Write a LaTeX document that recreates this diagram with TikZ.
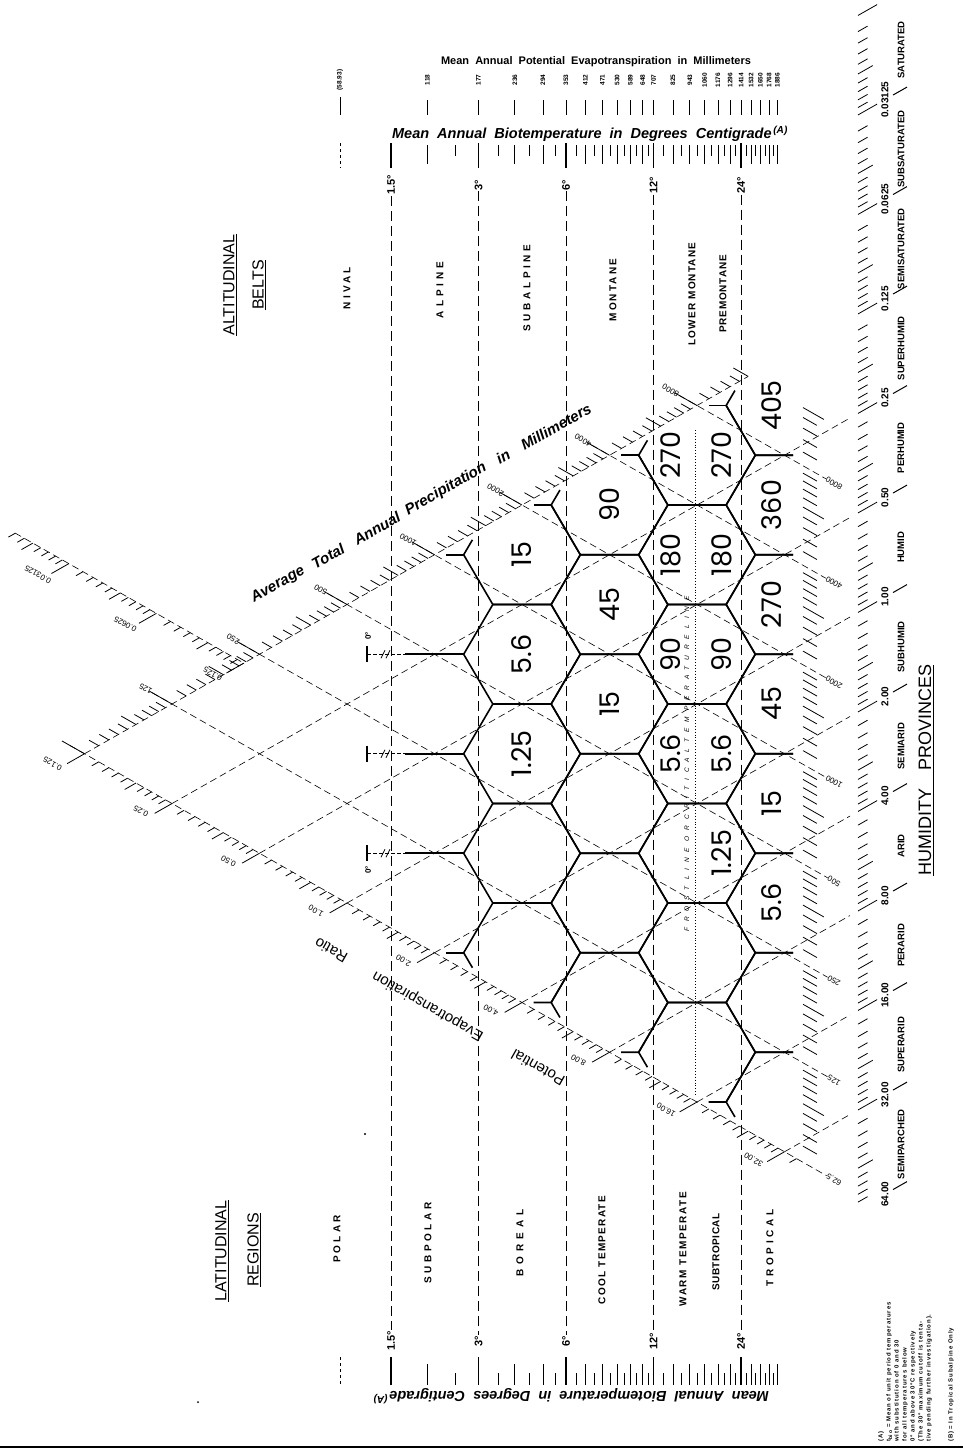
\documentclass[tikz,border=0pt]{standalone}
\usepackage{fontspec}
\setmainfont{Liberation Sans}
\newfontfamily\zonefont{Poppins}
\usetikzlibrary{arrows.meta}

\begin{document}
\begin{tikzpicture}[x=1pt,y=-1pt,
  hexedge/.style={line width=1.6pt,line join=miter},
  guide/.style={line width=0.6pt,dash pattern=on 7pt off 4pt},
  tline/.style={line width=1pt,dash pattern=on 10pt off 5pt},
  tick/.style={line width=0.8pt},
  zone/.style={rotate=90,font=\zonefont\fontsize{27}{27}\selectfont,inner sep=0pt},
  band/.style={rotate=90,font=\bfseries\fontsize{10}{10}\selectfont,inner sep=0pt},
  prov/.style={rotate=90,font=\bfseries\fontsize{9.5}{9.5}\selectfont,inner sep=0pt},
  heading/.style={rotate=90,font=\fontsize{16}{16}\selectfont,inner sep=0pt},
  deg/.style={rotate=90,font=\bfseries\fontsize{11}{11}\selectfont,inner sep=1pt},
  slab/.style={rotate=150.4,font=\fontsize{8}{8}\selectfont,inner sep=0.5pt},
  vlab/.style={rotate=90,font=\bfseries\fontsize{10}{10}\selectfont,inner sep=0pt},
  petv/.style={rotate=90,font=\bfseries\fontsize{6.5}{6.5}\selectfont,inner sep=0pt},
  ptword/.style={rotate=29.6,font=\bfseries\itshape\fontsize{15}{15}\selectfont,inner sep=0pt},
  erword/.style={rotate=150.4,font=\fontsize{15}{15}\selectfont,inner sep=0pt},
  note/.style={rotate=90,anchor=north west,align=left,inner sep=0pt,font=\bfseries\fontsize{6}{8}\selectfont\addfontfeatures{LetterSpace=15}}]

\useasboundingbox (0,0) rectangle (963,1452);

% biotemperature / evapotranspiration scales
\node[font=\bfseries\fontsize{11}{11}\selectfont] (pettitle) at (596,62) {Mean\ \ Annual\ \ Potential\ \ Evapotranspiration\ \ in\ \ Millimeters};
\node[petv] (pet1) at (340,80) {(58.93)};
\draw[tick] (340,97) -- (340,115);
\foreach \tv/\vv in {2/118,3/177,4/236,5/294,6/353,7/412,8/471,9/530,10/589,11/648,12/707,14/825,16/943,18/1060,20/1176,22/1296,24/1414,26/1532,28/1650,30/1768,32/1886}{
  \pgfmathsetmacro\tx{391+126.24*ln(\tv/1.5)}
  \node[petv] (pet\tv) at (\tx,80) {\vv};
  \draw[tick] (\tx,100) -- (\tx,115);
}
\node[font=\bfseries\itshape\fontsize{14.5}{14.5}\selectfont] (biotop) at (590,134) {Mean\ \ Annual\ \ Biotemperature\ \ in\ \ Degrees\ \ Centigrade\textsuperscript{\,(A)}};
\node[rotate=180,font=\bfseries\itshape\fontsize{14.5}{14.5}\selectfont] (biobot) at (571,1396) {Mean\ \ Annual\ \ Biotemperature\ \ in\ \ Degrees\ \ Centigrade\textsuperscript{\,(A)}};
\foreach \tv in {1.5,3,6,12,24}{
  \pgfmathsetmacro\tx{391+126.24*ln(\tv/1.5)}
  \draw[tick,line width=1.1pt] (\tx,143) -- (\tx,168);
  \draw[tick,line width=1.1pt] (\tx,1357) -- (\tx,1385);
}
\foreach \tv in {2,4,5,7,8,9,10,11,14,16,18,20,22,26,28,30,32}{
  \pgfmathsetmacro\tx{391+126.24*ln(\tv/1.5)}
  \draw[tick] (\tx,145) -- (\tx,164);
  \draw[tick] (\tx,1364) -- (\tx,1385);
}
\foreach \tv in {2.5,3.5,4.5,5.5,6.5,7.5,8.5,9.5,10.5,11.5,13,15,17,19,21,23,25,27,29,31}{
  \pgfmathsetmacro\tx{391+126.24*ln(\tv/1.5)}
  \draw[tick] (\tx,145) -- (\tx,156);
  \draw[tick] (\tx,1373) -- (\tx,1385);
}
\draw[tick,dash pattern=on 3pt off 3pt] (340,143) -- (340,168);
\draw[tick,dash pattern=on 3pt off 3pt] (340,1357) -- (340,1385);

% guide lines of biotemperature
\foreach \tv/\tn in {1.5/a,3/b,6/c,12/d,24/e}{
  \pgfmathsetmacro\tx{391+126.24*ln(\tv/1.5)}
  \node[deg] (tt\tn) at (\tx,185) {\tv°};
  \node[deg] (tb\tn) at (\tx,1341) {\tv°};
  \draw[tline] (tt\tn.west) -- (tb\tn.east);
}

% belts and regions
\node[heading] (altA) at (230,285) {\underline{ALTITUDINAL}};
\node[heading] (altB) at (259,285) {\underline{BELTS}};
\node[band] (bnival) at (347,288) {\addfontfeatures{LetterSpace=32}NIVAL};
\node[band] (balpine) at (440,290) {\addfontfeatures{LetterSpace=39}ALPINE};
\node[band] (bsubalp) at (527,288) {\addfontfeatures{LetterSpace=36}SUBALPINE};
\node[band] (bmont) at (613,290) {\addfontfeatures{LetterSpace=22}MONTANE};
\node[band] (blower) at (692,294) {\addfontfeatures{LetterSpace=12}LOWER MONTANE};
\node[band] (bpre) at (723,294) {\addfontfeatures{LetterSpace=8}PREMONTANE};
\node[heading] (latA) at (222,1251) {\underline{LATITUDINAL}};
\node[heading] (latB) at (254,1250) {\underline{REGIONS}};
\node[band] (rpolar) at (337,1239) {\addfontfeatures{LetterSpace=32}POLAR};
\node[band] (rsubpol) at (428,1243) {\addfontfeatures{LetterSpace=36}SUBPOLAR};
\node[band] (rboreal) at (520,1243) {\addfontfeatures{LetterSpace=50}BOREAL};
\node[band] (rcool) at (602,1250) {\addfontfeatures{LetterSpace=13}COOL TEMPERATE};
\node[band] (rwarm) at (683,1249) {\addfontfeatures{LetterSpace=16}WARM TEMPERATE};
\node[band] (rsubtr) at (716,1252) {\addfontfeatures{LetterSpace=5}SUBTROPICAL};
\node[band] (rtrop) at (770,1248) {\addfontfeatures{LetterSpace=37}TROPICAL};

% precipitation guide lines
\foreach \wx/\wt/\wn in {278/Average/a,328/Total/b,377/Annual/c,446/Precipitation/d,503/in/e,556/Millimeters/f}{
  \pgfmathsetmacro\wy{446-(\wx-522)*0.5686}
  \node[ptword] (pw\wn) at (\wx,\wy) {\wt};
}
\foreach \pv/\pn in {125/a,250/b,500/c,1000/d,2000/e,4000/f,8000/g}{
  \pgfmathsetmacro\yp{604.5-143.55*ln(\pv/1000)}
  \pgfmathsetmacro\lx{522+(475-\yp)/1.1372}
  \pgfmathsetmacro\ly{(475+\yp)/2}
  \pgfmathsetmacro\ry{\yp+312*0.5686}
  \node[slab] (pt\pn) at (\lx,\ly) {\pv};
  \node[slab] (pb\pn) at (834,\ry) {\pv};
  \draw[guide] (pt\pn.west) -- (pb\pn.east);
}
\node[slab] (pbz) at (834,1179.9) {62.5};
\draw[guide] (70,745.5) -- (pbz.east);

% evapotranspiration ratio guide lines
\foreach \wx/\wt/\wn in {538/Potential/a,428/Evapotranspiration/b,331/Ratio/c}{
  \pgfmathsetmacro\wy{1059+(\wx-522)*0.5686}
  \node[erword] (ew\wn) at (\wx,\wy) {\wt};
}
\draw[guide] (15,533) -- (243.8,663.1);
\draw[guide] (84.5,753.75) -- (748,376.5);
\node[slab] (ula) at (37.9,574.6) {0.03125};
\node[slab] (ulb) at (125.3,624.3) {0.0625};
\node[slab] (ulc) at (212.8,674.1) {0.125};
\node[slab] (rla) at (52.5,763.75) {0.125};
\foreach \rv/\rt/\rn in {0.25/0.25/b,0.5/0.50/c,1/1.00/d,2/2.00/e,4/4.00/f,8/8.00/g,16/16.00/h,32/32.00/i}{
  \pgfmathsetmacro\yr{803.5+143.55*ln(\rv)}
  \pgfmathsetmacro\bx{522+(\yr-1002.5)/1.1372}
  \pgfmathsetmacro\by{(\yr+1002.5)/2}
  \pgfmathsetmacro\ey{\yr-328*0.5686}
  \coordinate (rs\rn) at (\bx,\by);
  \node[slab] (rl\rn) at (\bx-31,\by+8) {\rt};
  \draw[guide] (rs\rn) -- (850,\ey);
}

% scale hatches
\foreach \oc in {62.5,125,250,500,1000,2000,4000,8000}{
  \foreach \jj in {0,...,9}{
    \pgfmathsetmacro\pv{\oc*(1+\jj/10)}
    \pgfmathtruncatemacro\ok{\pv<12100 ? 1 : 0}
    \ifnum\ok=1
      \pgfmathsetmacro\yp{604.5-143.55*ln(\pv/1000)}
      \pgfmathsetmacro\hx{522+(505-\yp)/1.1372}
      \pgfmathsetmacro\hy{(505+\yp)/2}
      \pgfmathsetmacro\tl{\jj==0 ? 26 : (\jj==5 ? 17 : 11)}
      \draw[tick] (\hx,\hy) -- ++(-0.869*\tl,-0.494*\tl);
      \pgfmathsetmacro\by{\yp+281*0.5686}
      \pgfmathsetmacro\tl{\jj==5 ? 24 : 16}
      \ifnum\jj>0 \draw[tick] (803,\by) -- ++(0.869*\tl,0.494*\tl); \fi
    \fi
  }
}
\foreach \oc in {0.015625,0.03125,0.0625,0.125,0.25,0.5,1,2,4,8,16,32}{
  \foreach \jj in {0,...,9}{
    \pgfmathsetmacro\rv{\oc*(1+\jj/10)}
    \pgfmathsetmacro\yr{803.5+143.55*ln(\rv)}
    \pgfmathsetmacro\by{\yr-336*0.5686}
    \pgfmathtruncatemacro\ok{(\by>3) && (\by<1215) ? 1 : 0}
    \pgfmathsetmacro\tl{\jj==0 ? 22 : (\jj==5 ? 17 : 11)}
    \ifnum\ok=1 \draw[tick] (858,\by) -- ++(0.869*\tl,-0.494*\tl); \fi
    \pgfmathsetmacro\bx{522+(\yr-1002.5)/1.1372}
    \pgfmathsetmacro\bb{(\yr+1002.5)/2}
    \pgfmathtruncatemacro\ok{(\bx>80) && (\bx<806) ? 1 : 0}
    \pgfmathsetmacro\tl{\jj==0 ? 20 : (\jj==5 ? 13 : 8)}
    \ifnum\ok=1 \draw[tick] (\bx,\bb) -- ++(-0.869*\tl,0.494*\tl); \fi
    \pgfmathsetmacro\ux{(\yr-227.7)/1.1372}
    \pgfmathsetmacro\uy{533+(\ux-15)*0.5686}
    \pgfmathtruncatemacro\ok{(\ux>15) && (\ux<245) ? 1 : 0}
    \ifnum\ok=1 \draw[tick] (\ux,\uy) -- ++(-0.869*\tl,0.494*\tl); \fi
  }
}

% humidity provinces
\foreach \rv/\rt/\rn in {0.03125/0.03125/a,0.0625/0.0625/b,0.125/0.125/c,0.25/0.25/d,0.5/0.50/e,1/1.00/f,2/2.00/g,4/4.00/h,8/8.00/i,16/16.00/j,32/32.00/k,64/64.00/l}{
  \pgfmathsetmacro\yr{803.5+143.55*ln(\rv)}
  \pgfmathsetmacro\ly{\yr-363*0.5686}
  \pgfmathsetmacro\sa{\yr-371*0.5686}
  \pgfmathsetmacro\sb{\yr-385*0.5686}
  \node[vlab] (rr\rn) at (885,\ly) {\rt};
  \draw[tick,line width=1pt] (893,\sa) -- (907,\sb);
}
\foreach \hn/\hname in {0/SATURATED,1/SUBSATURATED,2/SEMISATURATED,3/SUPERHUMID,4/PERHUMID,5/HUMID,6/SUBHUMID,7/SEMIARID,8/ARID,9/PERARID,10/SUPERARID,11/SEMIPARCHED}{
  \pgfmathsetmacro\hpy{49.85+99.5*\hn}
  \node[prov] (hp\hn) at (901,\hpy) {\hname};
}
\node[heading,font=\fontsize{18}{18}\selectfont] (humid) at (926,770) {\underline{HUMIDITY\quad PROVINCES}};

% hexagons
\foreach \ci/\cm in {0/4,1/5,2/6}{
  \foreach \ck in {0,...,\cm}{
    \pgfmathsetmacro\cx{522+87.5*\ci}
    \pgfmathsetmacro\cy{554.75+99.5*\ck-49.75*\ci}
    \ifnum\ck=0\relax
      \draw[hexedge] (\cx+29.17,\cy-49.75) -- (\cx+58.33,\cy) -- (\cx+29.17,\cy+49.75) -- (\cx-29.17,\cy+49.75) -- (\cx-58.33,\cy) -- (\cx-49.58,\cy-14.93);
      \draw[hexedge] (\cx+29.17,\cy-49.75) -- (\cx+11.67,\cy-49.75);
    \else\ifnum\ck=\cm\relax
      \draw[hexedge] (\cx-49.58,\cy+14.93) -- (\cx-58.33,\cy) -- (\cx-29.17,\cy-49.75) -- (\cx+29.17,\cy-49.75) -- (\cx+58.33,\cy) -- (\cx+29.17,\cy+49.75) -- (\cx+11.67,\cy+49.75);
    \else
      \draw[hexedge] (\cx-58.33,\cy) -- (\cx-29.17,\cy-49.75) -- (\cx+29.17,\cy-49.75) -- (\cx+58.33,\cy) -- (\cx+29.17,\cy+49.75) -- (\cx-29.17,\cy+49.75) -- cycle;
    \fi\fi
  }
}
\foreach \ck in {0,...,7}{
  \pgfmathsetmacro\cy{405.5+99.5*\ck}
  \ifnum\ck=0\relax
    \draw[hexedge] (734.92,\cy-14.93) -- (726.17,\cy) -- (755.33,\cy+49.75) -- (793,\cy+49.75);
  \else\ifnum\ck=7\relax
    \draw[hexedge] (793,\cy-49.75) -- (755.33,\cy-49.75) -- (726.17,\cy) -- (734.92,\cy+14.93);
  \else
    \draw[hexedge] (793,\cy-49.75) -- (755.33,\cy-49.75) -- (726.17,\cy) -- (755.33,\cy+49.75) -- (793,\cy+49.75);
  \fi\fi
}
\draw[hexedge] (463.67,554.75) -- (446.17,554.75);
\draw[hexedge] (463.67,952.75) -- (446.17,952.75);
\foreach \yv/\yn in {654.25/a,753.75/b,853.25/c}{
  \coordinate (sp\yn) at (367,\yv);
  \draw[hexedge] (405.33,\yv) -- (463.67,\yv);
  \draw[line width=1pt,dash pattern=on 4pt off 2pt] (sp\yn) -- (405.33,\yv);
  \draw[line width=1.2pt] (367,\yv-8) -- (367,\yv+8);
  \draw[line width=0.8pt] (381,\yv+4) -- (385,\yv-4) (386,\yv+4) -- (390,\yv-4);
}
\node[rotate=90,font=\bfseries\fontsize{8}{8}\selectfont] (zdeg1) at (368,636) {0°};
\node[rotate=90,font=\bfseries\fontsize{8}{8}\selectfont] (zdeg2) at (368,870) {0°};

% frost line
\draw[line width=0.9pt,dotted] (695,430) -- (695,1095);
\node[rotate=90,font=\itshape\fontsize{6.5}{6.5}\selectfont] (frost) at (687,764) {\addfontfeatures{LetterSpace=90}FROST\quad LINE\quad OR\quad CRITICAL\quad TEMPERATURE\quad LINE};

% numbers in the hexagons
\node[zone] (z00) at (522,554.75) {15};
\node[zone] (z01) at (522,654.25) {5.6};
\node[zone] (z02) at (522,753.75) {1.25};
\node[zone] (z10) at (609.5,505) {90};
\node[zone] (z11) at (609.5,604.5) {45};
\node[zone] (z12) at (609.5,704) {15};
\node[zone] (z20l) at (671,455.25) {270};
\node[zone] (z20r) at (722,455.25) {270};
\node[zone] (z21l) at (671,554.75) {180};
\node[zone] (z21r) at (722,554.75) {180};
\node[zone] (z22l) at (671,654.25) {90};
\node[zone] (z22r) at (722,654.25) {90};
\node[zone] (z23l) at (671,753.75) {5.6};
\node[zone] (z23r) at (722,753.75) {5.6};
\node[zone] (z24r) at (722,853.25) {1.25};
\node[zone] (z30) at (772,405.5) {405};
\node[zone] (z31) at (772,505) {360};
\node[zone] (z32) at (772,604.5) {270};
\node[zone] (z33) at (772,704) {45};
\node[zone] (z34) at (772,803.5) {15};
\node[zone] (z35) at (772,903) {5.6};

% notes
\node[note] (notea) at (878,1442) {(A)\\ t\textsubscript{bio} = Mean of unit period temperatures\\ with substitution of 0 and 30\\ for all temperatures below\\ 0° and above 30°C respectively\\ (The 30° maximum cutoff is tenta-\\ tive pending further investigation).};
\node[note] (noteb) at (948,1442) {(B) = In Tropical Subalpine Only};
\fill (365,1134) circle (1.2);
\fill (198,1402) circle (1);
\draw[line width=2.5pt] (0,1447) -- (963,1447);
\end{tikzpicture}
\end{document}
